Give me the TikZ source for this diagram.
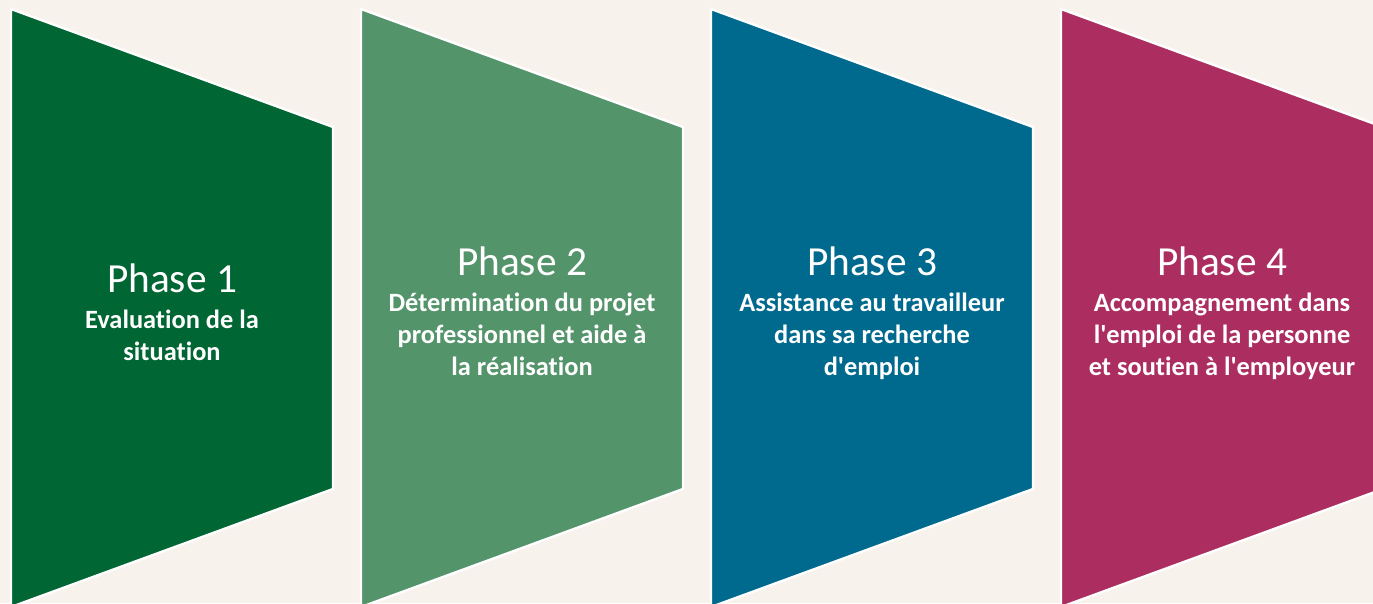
\documentclass[tikz,border=0pt]{standalone}
\usepackage{fontspec}
\setmainfont{Carlito}[Ligatures=NoCommon]
\usepackage{tikz}
\usetikzlibrary{positioning}

\definecolor{backdrop}{RGB}{248,242,236}
\definecolor{phaseone}{RGB}{0,102,51}
\definecolor{phasetwo}{RGB}{84,148,107}
\definecolor{phasethree}{RGB}{0,106,142}
\definecolor{phasefour}{RGB}{172,46,97}

\newcommand{\apos}{\textquotesingle}

\tikzset{
	phase/.style={draw=white, line width=1.8pt, line join=miter},
	title/.style={text=white, inner sep=0pt, anchor=base, font=\fontsize{31}{37}\selectfont},
	body/.style={text=white, inner sep=0pt, align=center, font=\bfseries\fontsize{19.8}{24}\selectfont}
}

\begin{document}
\begin{tikzpicture}[x=0.75pt, y=-0.75pt]
			\useasboundingbox (0,0) rectangle (1373,603);
			\fill[backdrop] (0,0) rectangle (1373,603);
			\clip (0,0) rectangle (1373,603);

			% first phase
			\draw[phase, fill=phaseone] (11,9) -- (333,127) -- (333,489) -- (11,607) -- cycle;
			\node[title] (t1) at (172,292) {Phase 1};
			\node[body, below=12.5pt of t1] (b1) {Evaluation de la\\situation};

			% second phase
			\draw[phase, fill=phasetwo] (361,9) -- (683,127) -- (683,489) -- (361,607) -- cycle;
			\node[title] (t2) at (522,275) {Phase 2};
			\node[body, below=12.5pt of t2] (b2) {Détermination du projet\\professionnel et aide à\\la réalisation};

			% third phase
			\draw[phase, fill=phasethree] (711,9) -- (1033,127) -- (1033,489) -- (711,607) -- cycle;
			\node[title] (t3) at (872,275) {Phase 3};
			\node[body, below=12.5pt of t3] (b3) {Assistance au travailleur\\dans sa recherche\\d\apos emploi};

			% fourth phase
			\draw[phase, fill=phasefour] (1061,9) -- (1383,127) -- (1383,489) -- (1061,607) -- cycle;
			\node[title] (t4) at (1222,275) {Phase 4};
			\node[body, below=12.5pt of t4] (b4) {Accompagnement dans\\l\apos emploi de la personne\\et soutien à l\apos employeur};

		\end{tikzpicture}
\end{document}
